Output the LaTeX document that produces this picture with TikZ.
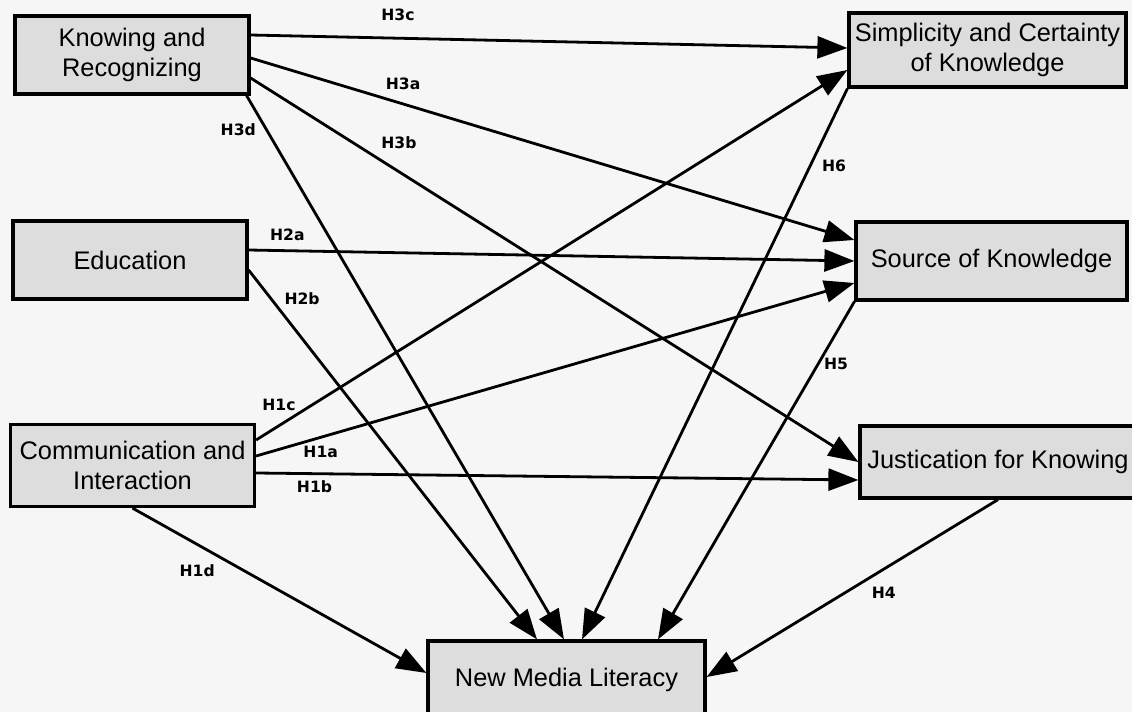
\documentclass[tikz,border=0pt]{standalone}
\usepackage{fontspec}
\setmainfont{Liberation Sans}
\newfontfamily\hypfont{DejaVu Sans}
\usepackage{tikz}
\usetikzlibrary{arrows.meta}
\definecolor{boxgray}{RGB}{221,221,221}
\definecolor{bggray}{RGB}{246,246,246}

\begin{document}
\begin{tikzpicture}[x=0.5pt, y=-0.5pt, line width=1.4pt,
    construct/.style={draw, line width=1.6pt, fill=boxgray, align=center, inner sep=0pt,
      font=\fontsize{12.7}{15}\selectfont},
    hyp/.style={font=\hypfont\bfseries\fontsize{7.8}{9}\selectfont, inner sep=0pt},
    >={Triangle[length=15pt, width=11pt]}]
  \path[use as bounding box, fill=bggray] (0,0) rectangle (1132,712);
  \clip (0,0) rectangle (1132,712);
  % constructs
  \node[construct, minimum width=117pt, minimum height=39pt] (kr) at (132,55) {Knowing and\\Recognizing};
  \node[construct, minimum width=117pt, minimum height=39pt] (edu) at (130,260) {Education};
  \node[construct, minimum width=122pt, minimum height=41pt] (ci) at (132.5,465.5) {Communication and\\Interaction};
  \node[construct, minimum width=138.5pt, minimum height=37pt] (sc) at (987.5,50) {Simplicity and Certainty\\of Knowledge};
  \node[construct, minimum width=135.5pt, minimum height=39pt] (sk) at (991.5,261) {Source of Knowledge};
  \node[construct, minimum width=138pt, minimum height=36pt] (jk) at (998,462) {Justication for Knowing};
  \node[construct, minimum width=138.5pt, minimum height=39pt] (nml) at (566.5,680) {New Media Literacy};
  % hypotheses
  \path[->]
  ([yshift=10pt]kr.east) edge node [hyp, pos=0.247, yshift=11.5pt] {H3c} ([yshift=1pt]sc.west)
  ([yshift=-1.5pt]kr.east) edge node [hyp, pos=0.2525, yshift=10pt] {H3a} ([yshift=10.5pt]sk.west)
  ([yshift=-11.5pt]kr.east) edge node [hyp, pos=0.244, yshift=14.5pt] {H3b} (jk.west)
  ([xshift=-2pt]kr.south east) edge node [hyp, pos=0.062, xshift=-14pt] {H3d} ([xshift=-1.25pt]nml.north)
  ([yshift=5pt]edu.east) edge node [hyp, pos=0.064, yshift=8pt] {H2a} (sk.west)
  ([yshift=-5pt]edu.east) edge node [hyp, pos=0.078, xshift=15.5pt] {H2b} ([xshift=-14.75pt]nml.north)
  ([yshift=12.75pt]ci.east) edge node [hyp, pos=0.0387, yshift=10.5pt] {H1c} ([yshift=-10pt]sc.west)
  ([yshift=4.75pt]ci.east) edge node [hyp, pos=0.108, yshift=-7.5pt] {H1a} ([yshift=-11pt]sk.west)
  ([yshift=-3.75pt]ci.east) edge node [hyp, pos=0.097, yshift=-6.5pt] {H1b} ([yshift=-9pt]jk.west)
  (ci.south) edge node [hyp, pos=0.22, yshift=-13pt] {H1d} ([yshift=3.5pt]nml.west)
  (sc.south west) edge node [hyp, pos=0.141, xshift=12pt] {H6} ([xshift=7.75pt]nml.north)
  (sk.south west) edge node [hyp, pos=0.185, xshift=9pt] {H5} ([xshift=45.75pt]nml.north)
  (jk.south) edge node [hyp, pos=0.392, yshift=-12pt] {H4} ([yshift=1.5pt]nml.east)
  ;
\end{tikzpicture}
\end{document}
